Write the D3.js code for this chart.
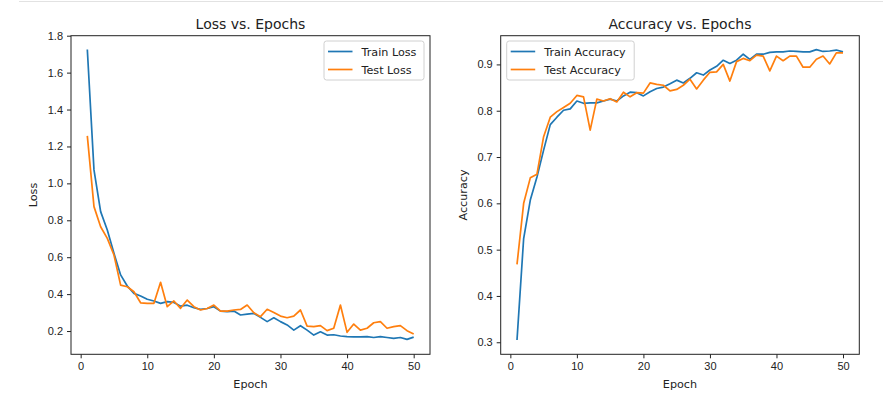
<!DOCTYPE html>
<html>
<head>
<meta charset="utf-8">
<script src="https://cdn.jsdelivr.net/npm/d3@7"></script>
<style>
  body { margin: 0; background: #fff; }
  svg { display: block; font-family: "DejaVu Sans", sans-serif; }
  .tick text { fill: #222; font-size: 11px; }
  .tick line { stroke: #222; }
</style>
</head>
<body>
<svg id="chart" width="883" height="399"></svg>
<script>
const epochs = d3.range(1, 51)

const trainLoss = [1.725, 1.073, 0.847, 0.747, 0.621, 0.504, 0.444, 0.404, 0.390, 0.372,
  0.363, 0.350, 0.359, 0.355, 0.335, 0.340, 0.326, 0.317, 0.322, 0.332,
  0.308, 0.305, 0.308, 0.287, 0.292, 0.296, 0.274, 0.251, 0.272, 0.251,
  0.233, 0.205, 0.229, 0.205, 0.178, 0.196, 0.178, 0.180, 0.173, 0.170,
  0.168, 0.168, 0.170, 0.165, 0.170, 0.165, 0.160, 0.165, 0.155, 0.167]
const testLoss = [1.257, 0.874, 0.765, 0.702, 0.612, 0.449, 0.440, 0.413, 0.353, 0.350,
  0.350, 0.464, 0.332, 0.363, 0.323, 0.368, 0.332, 0.314, 0.322, 0.341,
  0.308, 0.308, 0.314, 0.317, 0.341, 0.299, 0.278, 0.318, 0.301, 0.281,
  0.272, 0.281, 0.314, 0.227, 0.224, 0.229, 0.202, 0.215, 0.341, 0.193,
  0.238, 0.205, 0.215, 0.245, 0.251, 0.215, 0.224, 0.229, 0.202, 0.184]
const trainAcc = [0.305, 0.524, 0.607, 0.657, 0.715, 0.770, 0.786, 0.801, 0.804, 0.821,
  0.816, 0.817, 0.817, 0.821, 0.825, 0.821, 0.832, 0.840, 0.839, 0.832,
  0.841, 0.848, 0.851, 0.858, 0.866, 0.860, 0.870, 0.882, 0.877, 0.888,
  0.896, 0.909, 0.902, 0.909, 0.922, 0.911, 0.922, 0.922, 0.926, 0.927,
  0.927, 0.929, 0.928, 0.927, 0.927, 0.932, 0.928, 0.929, 0.931, 0.927]
const testAcc = [0.468, 0.600, 0.655, 0.663, 0.744, 0.786, 0.798, 0.807, 0.816, 0.833,
  0.830, 0.758, 0.825, 0.821, 0.826, 0.819, 0.840, 0.830, 0.839, 0.838,
  0.860, 0.857, 0.855, 0.843, 0.846, 0.855, 0.868, 0.847, 0.866, 0.883,
  0.884, 0.900, 0.864, 0.906, 0.913, 0.908, 0.920, 0.918, 0.886, 0.918,
  0.908, 0.918, 0.918, 0.894, 0.894, 0.911, 0.918, 0.901, 0.925, 0.925]

const xTicks = [0, 10, 20, 30, 40, 50]
const lossTicks = [0.2, 0.4, 0.6, 0.8, 1.0, 1.2, 1.4, 1.6, 1.8]
const accTicks = [0.3, 0.4, 0.5, 0.6, 0.7, 0.8, 0.9]

const blue = '#1f77b4'
const orange = '#ff7f0e'

let svg = d3.select('#chart')

// thin border of the notebook output cell
svg.append('line')
  .attr('x1', 19).attr('x2', 883).attr('y1', 1.5).attr('y2', 1.5)
  .attr('stroke', '#e2e2e2').attr('stroke-width', 1)

function drawPanel(opt) {
  let left = opt.left, right = opt.right, top = 35.7, bottom = 354.3

  let x = d3.scaleLinear().domain([-1.45, 52.45]).range([left, right])
  let y = d3.scaleLinear().domain(opt.yDomain).range([bottom, top])

  let g = svg.append('g')

  // x axis
  g.append('g')
    .attr('transform', `translate(0,${bottom})`)
    .call(d3.axisBottom(x).tickValues(xTicks).tickFormat(d3.format('d'))
      .tickSize(4).tickPadding(4).tickSizeOuter(0))
    .call(a => a.select('.domain').remove())

  // y axis
  g.append('g')
    .attr('transform', `translate(${left},0)`)
    .call(d3.axisLeft(y).tickValues(opt.yTicks).tickFormat(d3.format('.1f'))
      .tickSize(4).tickPadding(4).tickSizeOuter(0))
    .call(a => a.select('.domain').remove())

  let line = function (vals) {
    return d3.line()
      .x((d, i) => x(epochs[i]))
      .y(d => y(d))(vals)
  }

  g.append('path')
    .attr('d', line(opt.train))
    .attr('fill', 'none').attr('stroke', blue).attr('stroke-width', 1.7)
    .attr('stroke-linejoin', 'round')
  g.append('path')
    .attr('d', line(opt.test))
    .attr('fill', 'none').attr('stroke', orange).attr('stroke-width', 1.7)
    .attr('stroke-linejoin', 'round')

  // frame
  g.append('rect')
    .attr('x', left).attr('y', top)
    .attr('width', right - left).attr('height', bottom - top)
    .attr('fill', 'none').attr('stroke', '#222').attr('stroke-width', 1)

  // title and labels
  g.append('text')
    .attr('x', (left + right) / 2).attr('y', 28.5)
    .attr('text-anchor', 'middle').attr('font-size', 14).attr('fill', '#222')
    .text(opt.title)
  g.append('text')
    .attr('x', (left + right) / 2).attr('y', 388)
    .attr('text-anchor', 'middle').attr('font-size', 11.2).attr('fill', '#222')
    .text('Epoch')
  g.append('text')
    .attr('transform', `translate(${opt.ylabelX},${(top + bottom) / 2}) rotate(-90)`)
    .attr('text-anchor', 'middle').attr('font-size', 11.2).attr('fill', '#222')
    .text(opt.ylabel)

  // legend
  let lg = g.append('g').attr('transform', `translate(${opt.legendX},41)`)
  lg.append('rect')
    .attr('width', opt.legendW).attr('height', 39).attr('rx', 2.5)
    .attr('fill', 'white').attr('fill-opacity', 0.8)
    .attr('stroke', '#d0d0d0').attr('stroke-width', 1)
  let items = [[opt.names[0], blue], [opt.names[1], orange]]
  items.forEach((it, i) => {
    let yy = 10.5 + i * 18
    lg.append('line')
      .attr('x1', 4).attr('x2', 28.5).attr('y1', yy).attr('y2', yy)
      .attr('stroke', it[1]).attr('stroke-width', 1.7)
    lg.append('text')
      .attr('x', 37.5).attr('y', yy + 4)
      .attr('font-size', 11.2).attr('fill', '#222')
      .text(it[0])
  })
}

drawPanel({
  left: 71, right: 430,
  yDomain: [0.074, 1.80], yTicks: lossTicks,
  train: trainLoss, test: testLoss,
  title: 'Loss vs. Epochs', ylabel: 'Loss', ylabelX: 37,
  names: ['Train Loss', 'Test Loss'],
  legendX: 324, legendW: 100
})

drawPanel({
  left: 500.7, right: 859.3,
  yDomain: [0.274, 0.962], yTicks: accTicks,
  train: trainAcc, test: testAcc,
  title: 'Accuracy vs. Epochs', ylabel: 'Accuracy', ylabelX: 467,
  names: ['Train Accuracy', 'Test Accuracy'],
  legendX: 506.7, legendW: 127.5
})
</script>
</body>
</html>
